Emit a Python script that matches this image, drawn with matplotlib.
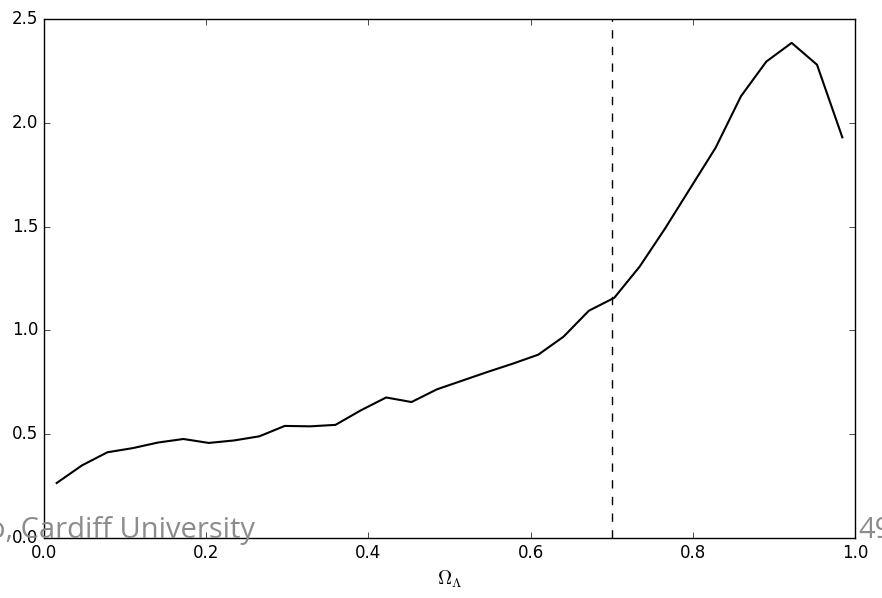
import numpy as np
import matplotlib
matplotlib.use("Agg")
import matplotlib.pyplot as plt

plt.style.use("classic")

# 32 bins in Omega_Lambda
omega_l = (np.arange(32) + 0.5) / 32
values = [0.265, 0.35, 0.413, 0.433, 0.46, 0.477, 0.458, 0.47,
          0.49, 0.54, 0.538, 0.545, 0.615, 0.677, 0.655, 0.716,
          0.758, 0.80, 0.84, 0.883, 0.97, 1.095, 1.157, 1.307,
          1.49, 1.685, 1.88, 2.128, 2.295, 2.385, 2.28, 1.93]
omega_ref = 0.7

fig = plt.figure(figsize=(8.82, 5.98), dpi=100)
fig.patch.set_facecolor("white")
ax = fig.add_axes([0.0499, 0.1003, 0.9195, 0.8679])

ax.plot(omega_l, values, color="black", lw=1.5)
ax.axvline(omega_ref, color="black", ls="--", lw=1)

ax.set_xlim(0, 1.0)
ax.set_ylim(0, 2.5)
ax.set_xticks([0.0, 0.2, 0.4, 0.6, 0.8, 1.0])
ax.set_yticks([0.0, 0.5, 1.0, 1.5, 2.0, 2.5])
ax.tick_params(labelsize=12)
ax.set_xlabel(r"$\Omega_\Lambda$", fontsize=14)

# slide footer that sits on top of the figure
fig.text(0.2895, 0.100, "o, Cardiff University", color="#8c8c8c",
         fontsize=21, family="Open Sans", ha="right", va="baseline")
fig.text(0.9728, 0.100, "49", color="#8c8c8c",
         fontsize=21, family="Open Sans", va="baseline")

fig.savefig("out.png", dpi=100, facecolor="white")
